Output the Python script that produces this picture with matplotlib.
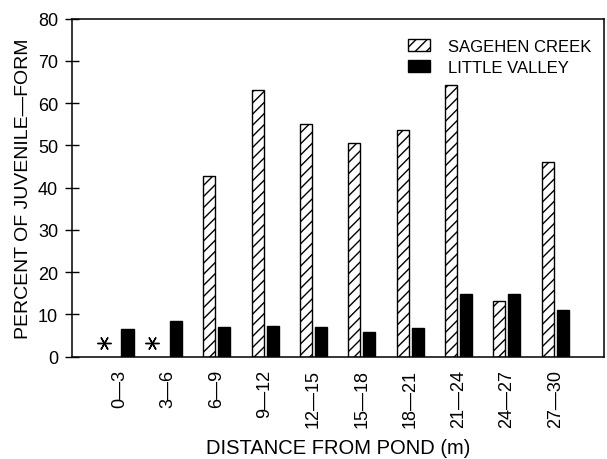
import numpy as np
import matplotlib
matplotlib.use("Agg")
import matplotlib.pyplot as plt
from matplotlib.patches import Patch

# Данные
categories = ["0—3", "3—6", "6—9", "9—12", "12—15", "15—18", "18—21", "21—24", "24—27", "27—30"]
sagehen = [np.nan, np.nan, 42.7, 63.0, 55.0, 50.5, 53.5, 64.3, 13.1, 46.1]
little_valley = [6.6, 8.4, 6.9, 7.3, 6.9, 5.7, 6.8, 14.7, 14.7, 11.1]
missing_groups = [0, 1]   # нет данных для Sagehen Creek (*)
missing_mark = [3.3, 3.3]
yticks = [0, 10, 20, 30, 40, 50, 60, 70, 80]

plt.rcParams["font.family"] = ["Liberation Sans", "DejaVu Sans"]


def plot_data():
    fig = plt.figure(figsize=(6.07, 4.60), dpi=100)
    ax = fig.add_axes([0.1186, 0.2228, 0.8764, 0.7348])

    x = np.arange(len(categories))
    w = 0.25
    ax.bar(x - 0.155, sagehen, w, facecolor="white", edgecolor="black",
           hatch="///", linewidth=1.0)
    ax.bar(x + 0.155, little_valley, w, facecolor="black", edgecolor="black",
           linewidth=1.0)
    ax.plot(np.array(missing_groups) - 0.34, missing_mark, linestyle="none",
            marker=(6, 2, 30), markersize=10, markeredgewidth=1.0, color="black")

    ax.set_xlim(-0.992, 10.006)
    ax.set_ylim(0, 80)
    ax.set_yticks(yticks)
    ax.set_xticks(x)
    ax.set_xticklabels(categories, rotation=90, va="top", ha="center")
    ax.tick_params(axis="x", length=0, pad=9, labelsize=13)
    ax.tick_params(axis="y", direction="inout", length=10, width=1.0,
                   pad=5, labelsize=13)
    for s in ax.spines.values():
        s.set_linewidth(1.1)

    ax.set_ylabel("PERCENT OF JUVENILE—FORM", fontsize=14, labelpad=4)
    ax.set_xlabel("DISTANCE FROM POND (m)", fontsize=14.5, labelpad=8)

    handles = [Patch(facecolor="white", edgecolor="black", hatch="///", linewidth=1.0),
               Patch(facecolor="black", edgecolor="black")]
    fig.legend(handles, ["SAGEHEN CREEK", "LITTLE VALLEY"], loc="upper left",
               bbox_to_anchor=(0.672, 0.914), frameon=False, fontsize=12,
               handlelength=1.3, handleheight=0.7, handletextpad=1.1,
               labelspacing=0.37, borderaxespad=0, borderpad=0)

    fig.savefig("out.png", dpi=100)


if __name__ == "__main__":
    plot_data()
